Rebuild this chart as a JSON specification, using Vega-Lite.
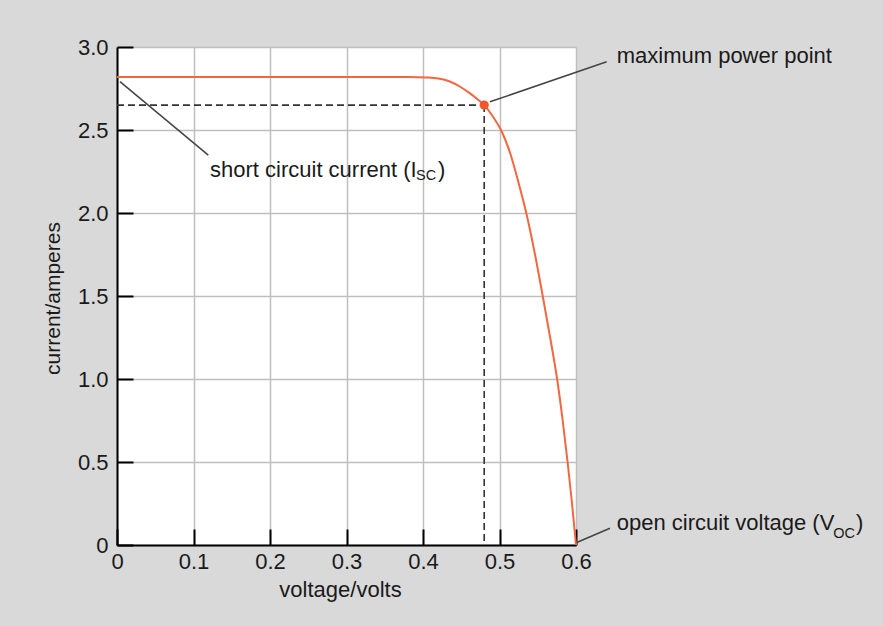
{
  "$schema": "https://vega.github.io/schema/vega-lite/v6.json",
  "width": 459,
  "height": 498,
  "autosize": {"type": "none"},
  "padding": {"left": 117, "top": 47, "right": 307, "bottom": 81},
  "background": "#d9d9d9",
  "config": {
    "view": {"fill": "white", "stroke": null},
    "font": "Liberation Sans",
    "axis": {
      "labelFont": "Liberation Sans",
      "titleFont": "Liberation Sans",
      "labelFontSize": 22,
      "titleFontSize": 22,
      "titleFontWeight": "normal",
      "labelColor": "#1a1a1a",
      "titleColor": "#1a1a1a",
      "domainColor": "#000000",
      "domainWidth": 2,
      "tickColor": "#000000",
      "tickWidth": 2,
      "tickSize": -16,
      "gridColor": "#bfbfbf",
      "gridWidth": 1.5,
      "gridOpacity": 1
    }
  },
  "datasets": {
    "curve": [
      {"V": 0, "I": 2.82}, {"V": 0.1, "I": 2.82}, {"V": 0.2, "I": 2.82}, {"V": 0.3, "I": 2.82},
      {"V": 0.38, "I": 2.819}, {"V": 0.405, "I": 2.816}, {"V": 0.42, "I": 2.81}, {"V": 0.435, "I": 2.792},
      {"V": 0.448, "I": 2.762}, {"V": 0.461, "I": 2.722}, {"V": 0.472, "I": 2.682}, {"V": 0.48, "I": 2.65},
      {"V": 0.4915, "I": 2.58}, {"V": 0.502, "I": 2.5}, {"V": 0.514, "I": 2.36}, {"V": 0.525, "I": 2.18},
      {"V": 0.535, "I": 2.0}, {"V": 0.546, "I": 1.76}, {"V": 0.5565, "I": 1.5}, {"V": 0.5662, "I": 1.25},
      {"V": 0.5753, "I": 1.0}, {"V": 0.5826, "I": 0.75}, {"V": 0.589, "I": 0.5}, {"V": 0.5948, "I": 0.25},
      {"V": 0.6, "I": 0.0}
    ],
    "dash": [
      {"V": 0, "I": 2.65, "V2": 0.48, "I2": 2.65},
      {"V": 0.48, "I": 2.65, "V2": 0.48, "I2": 0}
    ],
    "leaders": [
      {"V": 0.0039, "I": 2.791, "V2": 0.1193, "I2": 2.349},
      {"V": 0.4876, "I": 2.67, "V2": 0.6401, "I2": 2.911},
      {"V": 0.5987, "I": 0.0102, "V2": 0.6444, "I2": 0.1006}
    ],
    "mpp": [{"V": 0.48, "I": 2.65}],
    "labels": [
      {"V": 0.1216, "I": 2.215, "text": "short circuit current (I"},
      {"V": 0.6532, "I": 2.9036, "text": "maximum power point"},
      {"V": 0.6532, "I": 0.0904, "text": "open circuit voltage (V"},
      {"V": 0.4196, "I": 2.215, "text": ")"},
      {"V": 0.966, "I": 0.0904, "text": ")"}
    ],
    "subs": [
      {"V": 0.3908, "I": 2.2018, "text": "SC"},
      {"V": 0.9363, "I": 0.0404, "text": "OC"}
    ]
  },
  "layer": [
    {
      "data": {"name": "dash"},
      "mark": {"type": "rule", "color": "#333333", "strokeWidth": 1.6, "strokeDash": [7, 4]},
      "encoding": {
        "x": {
          "field": "V", "type": "quantitative",
          "scale": {"domain": [0, 0.6], "nice": false, "zero": false},
          "axis": {
            "title": "voltage/volts",
            "values": [0, 0.1, 0.2, 0.3, 0.4, 0.5, 0.6],
            "labelExpr": "datum.value == 0 ? '0' : format(datum.value, '.1f')",
            "labelPadding": 22,
            "labelFlush": false,
            "titleX": 223,
            "titleY": 51,
            "titleBaseline": "alphabetic",
            "titleAlign": "center"
          }
        },
        "y": {
          "field": "I", "type": "quantitative",
          "scale": {"domain": [0, 3], "nice": false, "zero": false},
          "axis": {
            "title": "current/amperes",
            "titleFontSize": 21,
            "values": [0, 0.5, 1, 1.5, 2, 2.5, 3],
            "labelExpr": "datum.value == 0 ? '0' : format(datum.value, '.1f')",
            "labelPadding": 25,
            "labelFlush": false,
            "titleX": -58,
            "titleY": 251,
            "titleAngle": 270,
            "titleBaseline": "alphabetic",
            "titleAlign": "center"
          }
        },
        "x2": {"field": "V2"},
        "y2": {"field": "I2"}
      }
    },
    {
      "data": {"name": "leaders"},
      "mark": {"type": "rule", "color": "#444444", "strokeWidth": 1.5},
      "encoding": {
        "x": {"field": "V", "type": "quantitative"},
        "y": {"field": "I", "type": "quantitative"},
        "x2": {"field": "V2"},
        "y2": {"field": "I2"}
      }
    },
    {
      "data": {"name": "curve"},
      "mark": {"type": "line", "color": "#f26640", "strokeWidth": 2, "interpolate": "monotone"},
      "encoding": {
        "x": {"field": "V", "type": "quantitative"},
        "y": {"field": "I", "type": "quantitative"}
      }
    },
    {
      "data": {"name": "mpp"},
      "mark": {"type": "circle", "color": "#f0582a", "opacity": 1, "size": 85},
      "encoding": {
        "x": {"field": "V", "type": "quantitative"},
        "y": {"field": "I", "type": "quantitative"}
      }
    },
    {
      "data": {"name": "labels"},
      "mark": {"type": "text", "align": "left", "baseline": "alphabetic", "fontSize": 22, "font": "Liberation Sans", "color": "#1a1a1a"},
      "encoding": {
        "x": {"field": "V", "type": "quantitative"},
        "y": {"field": "I", "type": "quantitative"},
        "text": {"field": "text"}
      }
    },
    {
      "data": {"name": "subs"},
      "mark": {"type": "text", "align": "left", "baseline": "alphabetic", "fontSize": 14.5, "font": "Liberation Sans", "color": "#1a1a1a"},
      "encoding": {
        "x": {"field": "V", "type": "quantitative"},
        "y": {"field": "I", "type": "quantitative"},
        "text": {"field": "text"}
      }
    }
  ]
}
